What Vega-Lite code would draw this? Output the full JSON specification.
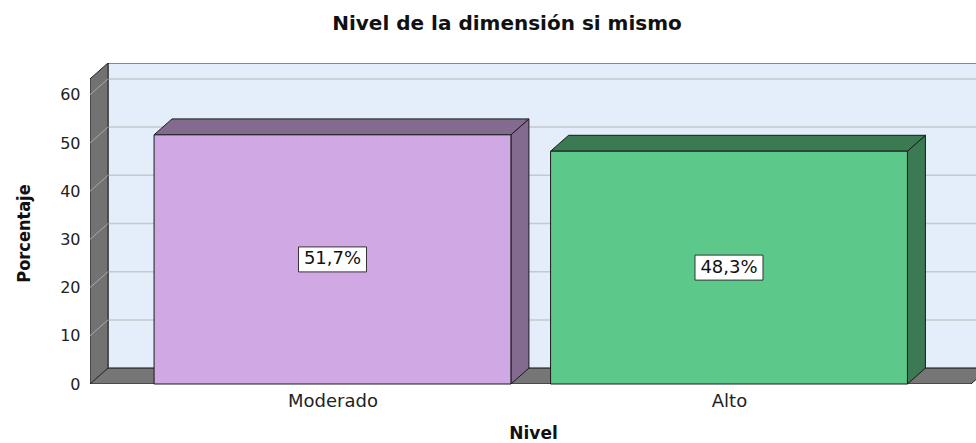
{
  "$schema": "https://vega.github.io/schema/vega-lite/v6.json",
  "width": 886,
  "height": 321,
  "autosize": "none",
  "padding": {"left": 90, "top": 63, "right": 0, "bottom": 59},
  "background": "white",
  "config": {"view": {"stroke": null}},
  "title": {
    "text": "Nivel de la dimensión si mismo",
    "font": "DejaVu Sans",
    "fontSize": 20,
    "fontWeight": "bold",
    "color": "#111111",
    "anchor": "middle",
    "dx": -26,
    "offset": 29
  },
  "datasets": {
    "bars": [
      {"Nivel": "Moderado", "pos": 0, "Porcentaje": 51.7},
      {"Nivel": "Alto", "pos": 1, "Porcentaje": 48.3}
    ],
    "ticks": [{"v": 0}, {"v": 10}, {"v": 20}, {"v": 30}, {"v": 40}, {"v": 50}, {"v": 60}]
  },
  "layer": [
    {
      "data": {"values": [{}]},
      "mark": {"type": "rect", "fill": "#e3eefa", "stroke": "#222222", "strokeWidth": 1, "clip": true},
      "encoding": {
        "x": {
          "datum": -0.5662,
          "type": "quantitative",
          "scale": {"domain": [-0.6116, 1.623], "nice": false, "zero": false},
          "axis": {
            "values": [0, 1],
            "labelExpr": "datum.value == 0 ? 'Moderado' : 'Alto'",
            "domain": false,
            "ticks": false,
            "grid": false,
            "labelFont": "DejaVu Sans",
            "labelFontSize": 18,
            "labelColor": "#222222",
            "labelPadding": 8,
            "title": "Nivel",
            "titleFont": "DejaVu Sans",
            "titleFontSize": 17,
            "titleFontWeight": "bold",
            "titleColor": "#111111",
            "titleBaseline": "alphabetic",
            "titleY": 54
          }
        },
        "x2": {"datum": 1.75},
        "y": {
          "datum": 3.3,
          "type": "quantitative",
          "scale": {"domain": [0, 66.6], "nice": false, "zero": false},
          "axis": {
            "values": [0, 10, 20, 30, 40, 50, 60],
            "domain": false,
            "ticks": false,
            "grid": false,
            "labelFont": "DejaVu Sans",
            "labelFontSize": 16,
            "labelColor": "#222222",
            "labelPadding": 10,
            "title": "Porcentaje",
            "titleFont": "DejaVu Sans Condensed, Liberation Sans Narrow, sans-serif",
            "titleFontSize": 18,
            "titleFontWeight": "bold",
            "titleColor": "#111111",
            "titleAngle": 270,
            "titleAlign": "center",
            "titleBaseline": "middle",
            "titleX": -66,
            "titleY": 170
          }
        },
        "y2": {"datum": 66.6}
      }
    },
    {
      "data": {"name": "ticks"},
      "transform": [{"calculate": "datum.v + 3.3", "as": "vb"}],
      "mark": {"type": "rule", "color": "#c6c9cc", "strokeWidth": 1.5, "clip": true},
      "encoding": {
        "x": {"datum": -0.5662, "type": "quantitative"},
        "x2": {"datum": 1.75},
        "y": {"field": "vb", "type": "quantitative"}
      }
    },
    {
      "data": {"values": [{"k": 0}, {"k": 1}]},
      "transform": [
        {"calculate": "-0.6116 + datum.k * 0.0454", "as": "wx"},
        {"calculate": "datum.k * 3.3", "as": "wy"},
        {"calculate": "63.3 + datum.k * 3.3", "as": "wy2"}
      ],
      "mark": {"type": "area", "fill": "#727272", "stroke": "#1e1e1e", "strokeWidth": 1, "clip": true},
      "encoding": {
        "x": {"field": "wx", "type": "quantitative"},
        "y": {"field": "wy", "type": "quantitative"},
        "y2": {"field": "wy2"}
      }
    },
    {
      "data": {"name": "ticks"},
      "transform": [{"calculate": "datum.v + 3.3", "as": "vb"}],
      "mark": {"type": "rule", "color": "#a9a9a9", "strokeWidth": 1},
      "encoding": {
        "x": {"datum": -0.6116, "type": "quantitative"},
        "x2": {"datum": -0.5662},
        "y": {"field": "v", "type": "quantitative"},
        "y2": {"field": "vb"}
      }
    },
    {
      "data": {"values": [{"k": 0}, {"k": 1}]},
      "transform": [
        {"calculate": "datum.k * 3.3", "as": "fy"},
        {"calculate": "-0.6116 + datum.k * 0.0454", "as": "fx"},
        {"calculate": "1.6103 + datum.k * 0.0454", "as": "fx2"}
      ],
      "mark": {"type": "area", "orient": "horizontal", "fill": "#767676", "stroke": "#1e1e1e", "strokeWidth": 1, "clip": true},
      "encoding": {
        "y": {"field": "fy", "type": "quantitative"},
        "x": {"field": "fx", "type": "quantitative"},
        "x2": {"field": "fx2"}
      }
    },
    {
      "data": {"name": "bars"},
      "transform": [
        {"calculate": "[0, 1]", "as": "k"},
        {"flatten": ["k"]},
        {"calculate": "datum.pos + 0.45 + datum.k * 0.0454", "as": "sx"},
        {"calculate": "datum.k * 3.3", "as": "sy"},
        {"calculate": "datum.Porcentaje + datum.k * 3.3", "as": "sy2"}
      ],
      "mark": {"type": "area", "stroke": "#1a1a1a", "strokeWidth": 1},
      "encoding": {
        "x": {"field": "sx", "type": "quantitative"},
        "y": {"field": "sy", "type": "quantitative"},
        "y2": {"field": "sy2"},
        "fill": {"field": "Nivel", "type": "nominal", "scale": {"domain": ["Moderado", "Alto"], "range": ["#826b8f", "#3b7a52"]}, "legend": null}
      }
    },
    {
      "data": {"name": "bars"},
      "transform": [
        {"calculate": "[0, 1]", "as": "k"},
        {"flatten": ["k"]},
        {"calculate": "datum.Porcentaje + datum.k * 3.3", "as": "ty"},
        {"calculate": "datum.pos - 0.45 + datum.k * 0.0454", "as": "tx"},
        {"calculate": "datum.pos + 0.45 + datum.k * 0.0454", "as": "tx2"}
      ],
      "mark": {"type": "area", "orient": "horizontal", "stroke": "#1a1a1a", "strokeWidth": 1},
      "encoding": {
        "y": {"field": "ty", "type": "quantitative"},
        "x": {"field": "tx", "type": "quantitative"},
        "x2": {"field": "tx2"},
        "fill": {"field": "Nivel", "type": "nominal", "scale": {"domain": ["Moderado", "Alto"], "range": ["#826b8f", "#3b7a52"]}, "legend": null}
      }
    },
    {
      "data": {"name": "bars"},
      "transform": [
        {"calculate": "datum.pos - 0.45", "as": "bx"},
        {"calculate": "datum.pos + 0.45", "as": "bx2"}
      ],
      "mark": {"type": "rect", "stroke": "#1a1a1a", "strokeWidth": 1},
      "encoding": {
        "x": {"field": "bx", "type": "quantitative"},
        "x2": {"field": "bx2"},
        "y": {"field": "Porcentaje", "type": "quantitative"},
        "y2": {"datum": 0},
        "fill": {"field": "Nivel", "type": "nominal", "scale": {"domain": ["Moderado", "Alto"], "range": ["#d0a9e4", "#5cc98b"]}, "legend": null}
      }
    },
    {
      "data": {"name": "bars"},
      "transform": [{"calculate": "datum.Porcentaje / 2", "as": "mid"}],
      "mark": {"type": "rect", "width": 68, "height": 25, "fill": "white", "stroke": "#333333", "strokeWidth": 1},
      "encoding": {
        "x": {"field": "pos", "type": "quantitative"},
        "y": {"field": "mid", "type": "quantitative"}
      }
    },
    {
      "data": {"name": "bars"},
      "transform": [
        {"calculate": "datum.Porcentaje / 2", "as": "mid"},
        {"calculate": "replace(format(datum.Porcentaje, '.1f'), '.', ',') + '%'", "as": "lab"}
      ],
      "mark": {"type": "text", "font": "DejaVu Sans", "fontSize": 18, "color": "#111111", "align": "center", "baseline": "middle"},
      "encoding": {
        "x": {"field": "pos", "type": "quantitative"},
        "y": {"field": "mid", "type": "quantitative"},
        "text": {"field": "lab"}
      }
    }
  ],
  "resolve": {"scale": {"fill": "independent"}}
}
